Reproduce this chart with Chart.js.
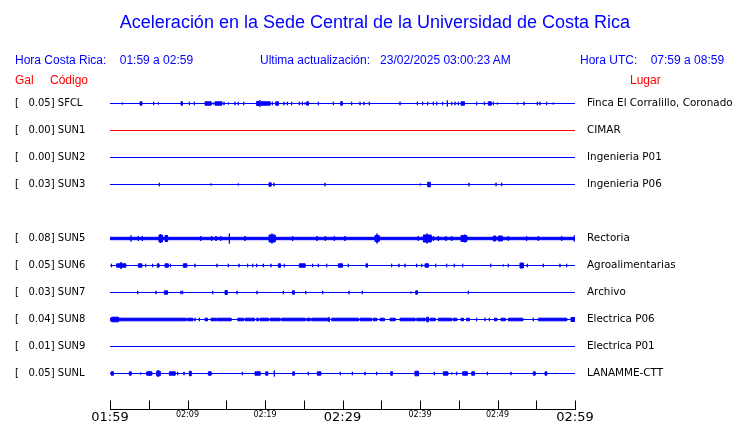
<!DOCTYPE html>
<html>
<head>
<meta charset="utf-8">
<script src="https://cdn.jsdelivr.net/npm/chart.js@4.4.1/dist/chart.umd.min.js"></script>
<style>
body { margin: 0; background: #fff; }
#wrap { position: relative; width: 740px; height: 423px; }
.t { position: absolute; white-space: pre; font-family: "Liberation Sans", Arial, sans-serif; font-size: 12px; line-height: 14px; color: #0000ff; }
.red { color: #ff0000; }
</style>
</head>
<body>
<div id="wrap">
<canvas id="sismo" width="740" height="423"></canvas>
<div class="t" style="left:0;top:11px;width:750px;text-align:center;font-size:18px;line-height:22px;">Aceleración en la Sede Central de la Universidad de Costa Rica</div>
<div class="t" style="left:15px;top:53px;">Hora Costa Rica:    01:59 a 02:59</div>
<div class="t" style="left:260px;top:53px;">Ultima actualización:   23/02/2025 03:00:23 AM</div>
<div class="t" style="left:580px;top:53px;">Hora UTC:    07:59 a 08:59</div>
<div class="t red" style="left:15px;top:73px;">Gal</div>
<div class="t red" style="left:50px;top:73px;">Código</div>
<div class="t red" style="left:630px;top:73px;">Lugar</div>
</div>
<script>
// estaciones (SUN4 sin datos, fila vacia)
var codes = ['SFCL', 'SUN1', 'SUN2', 'SUN3', 'SUN4', 'SUN5', 'SUN6', 'SUN7', 'SUN8', 'SUN9', 'SUNL'];
var gal = [0.05, 0.00, 0.00, 0.03, null, 0.08, 0.05, 0.03, 0.04, 0.01, 0.05];
var places = ['Finca El Corralillo, Coronado', 'CIMAR', 'Ingenieria P01', 'Ingenieria P06', '',
  'Rectoria', 'Agroalimentarias', 'Archivo', 'Electrica P06', 'Electrica P01', 'LANAMME-CTT'];
var tickLabels = ['01:59', '02:09', '02:19', '02:29', '02:39', '02:49', '02:59'];

// eventos de cada traza: [minuto inicio, minuto fin, amplitud]
var sfcl = [[1.59,1.59,1],[3.87,4.09,1.7],[5.63,5.63,1.7],[6.24,6.24,1],[9.16,9.33,1.7],[10.24,10.24,1.7],[10.88,10.88,1.7],
  [12.26,13.03,1.7],[13.33,13.33,1],[13.55,14.41,1.7],[14.71,14.71,1.7],[15.27,15.27,1],[16.13,16.13,1.7],[16.56,16.56,1.7],
  [17.25,17.25,1.7],[18.92,19.23,2],[19.35,19.35,3.3],[19.48,20.64,1.7],[20.95,20.95,1.7],[21.38,21.72,1.7],[22.45,22.45,1.7],
  [22.88,22.88,1.7],[23.44,23.44,1.7],[24.43,24.43,1.7],[24.82,24.82,1.7],[25.16,25.16,1],[25.38,25.59,1.7],[26.88,26.88,1.7],
  [28.82,28.82,1.7],[29.76,29.98,1.7],[31.18,31.18,1.7],[32.26,32.26,1.7],[32.77,32.77,1.7],[33.46,33.46,1.7],[37.42,37.42,1.7],
  [39.66,39.66,1.7],[40.34,40.34,1.7],[40.99,40.99,1.7],[41.72,41.72,1.7],[42.15,42.15,1.7],[42.92,42.92,1.7],[43.53,43.53,3],
  [44.09,44.09,1.7],[44.52,44.52,1.7],[44.95,44.95,1.7],[45.29,45.72,1.7],[47.31,47.31,1.7],[48.30,48.30,1.7],[48.82,49.16,1.7],
  [49.46,49.46,1.7],[49.98,49.98,1],[52.56,52.56,1],[53.42,53.42,1.7],[55.14,55.14,1.7],[55.48,55.48,1.7],[56.34,56.34,1.7],[57.20,57.20,1]];
var sun1 = [];
var sun2 = [];
var sun3 = [[6.37,6.37,1.7],[13.03,13.03,1],[16.56,16.56,1],[20.52,20.77,1.7],[21.16,21.16,1.7],[27.74,27.74,1.7],[40.04,40.04,1],
  [40.99,41.29,2.3],[46.32,46.32,1.7],[49.81,49.81,1.7],[50.54,50.54,1.7]];
var sun4 = [];
var sun5 = [[0,60,1.2],[2.71,2.71,3],[3.66,3.66,2.5],[4.17,4.17,2.5],[6.32,6.75,3.5],[6.5,6.5,4.5],[7.1,7.4,3],[11.7,11.7,2.5],
  [13.12,13.12,2.5],[13.68,13.68,2.5],[14.28,14.28,2.5],[15.4,15.4,5],[17.42,17.42,2.5],[20.52,21.29,3.5],[20.9,20.9,5],
  [23.57,23.57,2.5],[26.71,26.71,2.5],[27.78,27.78,2.5],[28.95,28.95,2.5],[30.32,30.32,2.5],[34.19,34.71,3],[34.45,34.45,5],
  [39.78,39.78,2.5],[40.43,41.42,3.5],[40.9,40.9,5],[41.72,41.72,2.5],[42.36,42.36,2.5],[43.35,43.35,2.5],[44.09,44.09,2.5],
  [45.29,46.02,3],[45.8,45.8,4],[49.46,49.76,2.5],[50.1,50.6,2.5],[51.4,51.4,2.5],[53.76,53.76,2.5],[55.27,55.27,2.5],
  [58.28,58.28,2.5],[59.9,59.9,3]];
var sun6 = [[0.2,0.2,1.7],[0.86,2.02,1.7],[1.42,1.42,3.5],[3.66,4.09,1.7],[4.6,4.6,1.7],[5.5,5.5,1.7],[6.1,6.3,1.7],[7.1,7.5,1.7],
  [7.8,7.8,1.7],[9.46,9.89,1.7],[10.97,10.97,1.7],[13.8,13.8,1.7],[15.27,15.27,1.7],[16.65,16.65,1.7],[17.76,17.76,1.7],
  [18.41,18.41,1.7],[18.92,18.92,1.7],[19.78,19.78,1.7],[20.77,20.77,1.7],[21.72,21.98,1.7],[22.49,22.49,1.7],[24.43,25.16,1.7],
  [26.15,26.15,1.7],[26.88,26.88,1.7],[27.96,27.96,1.7],[29.46,29.98,1.7],[30.75,30.75,1.7],[33.03,33.2,1.7],[36.34,36.34,1.7],
  [37.29,37.29,1.7],[38.06,38.06,1.7],[39.57,39.57,1.7],[40.22,40.22,1.7],[40.65,41.07,1.7],[42.02,42.02,1.7],[43.44,43.44,1.7],
  [44.43,44.43,1.7],[45.5,45.5,1.7],[49.12,49.12,1.7],[50.75,50.75,1],[51.4,51.4,1.7],[52.9,53.33,2.5],[53.85,53.85,1.7],
  [55.91,55.91,1.7],[58.06,58.06,1.7],[58.92,58.92,1.7]];
var sun7 = [[3.57,3.57,1.7],[5.94,5.94,1.7],[7.01,7.4,1.7],[9.16,9.16,1.7],[9.37,9.37,1.7],[13.25,13.25,1.7],[14.84,15.1,2],
  [16.39,16.39,1.7],[18.97,18.97,1.7],[22.37,22.37,1.7],[23.53,23.78,1.7],[25.25,25.25,1.7],[27.44,27.44,1.7],[30.84,30.84,1.7],
  [32.56,32.56,1.7],[38.84,38.84,1],[39.44,39.66,1.7],[46.24,46.24,1.7]];
var sun8 = [[0,9.8,1.3],[0.2,1.1,2.3],[10.0,10.67,1.3],[10.97,10.97,1.7],[11.53,11.53,1.7],[12.26,12.56,1.3],[13.03,13.63,1.3],
  [13.76,15.61,1.3],[16.48,17.2,1.3],[17.42,18.62,1.3],[18.92,19.14,1.3],[19.35,20.43,1.3],[20.64,21.93,1.3],[22.15,25.16,1.3],
  [25.38,25.81,1.3],[26.02,28.26,1.3],[28.26,28.26,2.5],[28.6,32.04,1.3],[32.26,33.76,1.3],[33.98,34.41,1.3],[34.84,35.4,1.3],
  [36.13,36.77,1.3],[37.42,39.35,1.3],[39.57,40.65,1.3],[40.86,41.07,2.3],[41.29,41.93,1.3],[42.36,44.09,1.3],[44.3,44.73,1.3],
  [45.29,45.59,1.3],[46.02,46.37,1.3],[47.31,47.31,1.7],[48.39,48.39,1.7],[48.95,48.95,1.7],[49.59,49.89,1.3],[50.45,50.97,1.3],
  [51.4,53.25,1.3],[54.62,54.62,1.7],[55.27,58.92,1.3],[59.48,59.91,2]];
var sun9 = [];
var sunl = [[0.13,0.43,1.7],[2.49,2.71,1.7],[3.96,3.96,1],[4.73,5.38,1.7],[5.1,5.1,2.3],[6.02,6.45,2.3],[6.2,6.2,3.3],[7.66,8.39,1.7],
  [8.73,8.73,1.7],[9.55,9.55,1.7],[10.24,10.45,2.3],[12.69,13.03,1.7],[17.08,17.08,1.7],[18.71,19.35,1.7],[20.09,20.34,1.7],
  [21.2,21.2,3],[23.57,23.78,1.7],[25.59,25.59,1.7],[26.75,27.18,1.7],[29.72,29.72,1.7],[31.27,31.27,1.7],[32.9,32.9,1.7],
  [34.41,34.41,1.7],[36.21,36.43,1.7],[39.35,39.78,2.3],[41.85,41.85,1.7],[43.01,43.57,1.7],[44.09,44.09,1],[44.73,44.73,1.7],
  [45.5,46.1,1.7],[46.67,47.01,1.7],[48.69,48.69,1.7],[51.74,51.74,1.7],[54.62,54.84,1.7],[56.13,56.34,1.7]];

var traces = [sfcl, sun1, sun2, sun3, sun4, sun5, sun6, sun7, sun8, sun9, sunl];
var redCodes = ['SUN1'];

var ROW_GAP = 27;   // separacion entre trazas (unidades del eje y)
var MINUTES = 60;

// arma la traza: linea base + cada evento como rectangulo/pulso
function tracePoints(events, base) {
    var pts = [{x: 0, y: base}];
    events.slice().sort(function(a, b) { return a[0] - b[0]; }).forEach(function(e) {
        var t0 = e[0], t1 = e[1], a = e[2];
        pts.push({x: t0, y: base}, {x: t0, y: base + a}, {x: t1, y: base + a},
                 {x: t1, y: base - a}, {x: t0, y: base - a}, {x: t0, y: base});
    });
    pts.push({x: MINUTES, y: base});
    return pts;
}

var datasets = [];
codes.forEach(function(code, i) {
    if (gal[i] === null) return;
    var color = redCodes.indexOf(code) >= 0 ? '#ff0000' : '#0000ff';
    datasets.push({
        label: code,
        data: tracePoints(traces[i], -ROW_GAP * i),
        borderColor: color,
        backgroundColor: color,
        borderWidth: 1,
        pointRadius: 0,
        pointHoverRadius: 0,
        tension: 0,
        fill: 'shape'
    });
});

function rowTicks(axis) {
    axis.ticks = codes.map(function(c, i) { return {value: -ROW_GAP * i}; });
}
function rowIndex(v) { return Math.round(-v / ROW_GAP); }

// eje de tiempo: linea y marcas hacia arriba
var timeAxis = {
    id: 'timeAxis',
    afterDraw: function(chart) {
        var xs = chart.scales.x, ctx = chart.ctx, a = chart.chartArea;
        var yb = Math.round(a.bottom) + 0.5;
        ctx.save();
        ctx.strokeStyle = '#000';
        ctx.lineWidth = 1;
        ctx.beginPath();
        ctx.moveTo(Math.round(a.left), yb);
        ctx.lineTo(Math.round(a.right) + 1, yb);
        xs.ticks.forEach(function(t) {
            var px = Math.round(xs.getPixelForValue(t.value)) + 0.5;
            ctx.moveTo(px, yb);
            ctx.lineTo(px, yb - 9);
        });
        ctx.stroke();
        ctx.restore();
    }
};

var ctx = document.getElementById('sismo').getContext('2d');
var chart = new Chart(ctx, {
    type: 'line',
    data: {datasets: datasets},
    plugins: [timeAxis],
    options: {
        responsive: false,
        animation: false,
        events: [],
        layout: {padding: {top: 76, left: 15, right: 0, bottom: 0}},
        plugins: {legend: {display: false}, tooltip: {enabled: false}},
        scales: {
            x: {
                type: 'linear',
                min: 0,
                max: MINUTES,
                afterFit: function(s) { s.height = 14; },
                border: {display: false},
                grid: {drawOnChartArea: false, drawTicks: false},
                ticks: {
                    stepSize: 5,
                    autoSkip: false,
                    maxRotation: 0,
                    padding: 1,
                    color: '#000',
                    callback: function(v) { return v % 10 === 0 ? tickLabels[v / 10] : ''; },
                    font: function(c) {
                        var big = c.tick && c.tick.value % 30 === 0;
                        return {family: 'DejaVu Sans', size: big ? 13 : 8};
                    }
                }
            },
            y: {
                type: 'linear',
                position: 'left',
                min: -305.5,
                max: 27.5,
                afterFit: function(s) { s.width = 95; },
                afterBuildTicks: rowTicks,
                border: {display: false},
                grid: {display: false},
                ticks: {
                    crossAlign: 'far',
                    padding: 0,
                    color: '#000',
                    font: {family: 'DejaVu Sans', size: 10},
                    callback: function(v) {
                        var i = rowIndex(v);
                        if (gal[i] === null) return '';
                        return '[   ' + gal[i].toFixed(2) + '] ' + codes[i];
                    }
                }
            },
            lugar: {
                type: 'linear',
                position: 'right',
                min: -305.5,
                max: 27.5,
                afterFit: function(s) { s.width = 165; },
                afterBuildTicks: rowTicks,
                border: {display: false},
                grid: {display: false, drawTicks: true, tickLength: 12},
                ticks: {
                    padding: 0,
                    color: '#000',
                    font: {family: 'DejaVu Sans', size: 10.4},
                    callback: function(v) { return places[rowIndex(v)]; }
                }
            }
        }
    }
});
</script>
</body>
</html>
